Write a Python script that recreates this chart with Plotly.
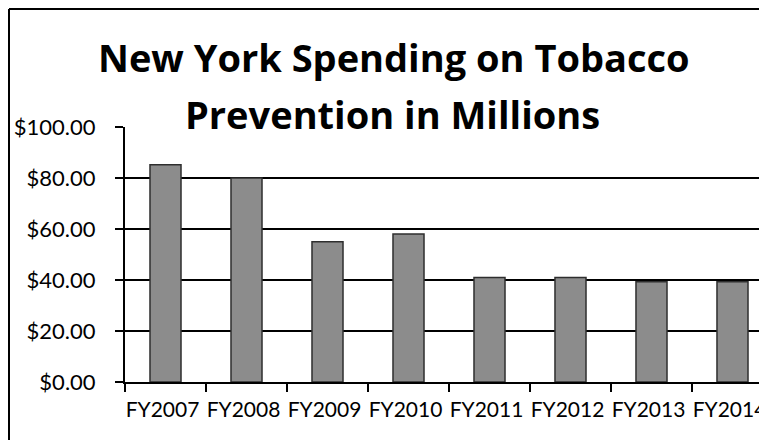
import plotly.graph_objects as go

categories = ["FY2007", "FY2008", "FY2009", "FY2010", "FY2011", "FY2012", "FY2013", "FY2014"]
spending = [85.2, 80.0, 55.0, 58.0, 41.0, 41.0, 39.3, 39.3]
y_ticks = [0, 20, 40, 60, 80, 100]
y_tick_labels = ["$0.00", "$20.00", "$40.00", "$60.00", "$80.00", "$100.00"]
title_lines = ["New York Spending on Tobacco", "Prevention in Millions"]

W, H = 767, 440
OFF = 8  # page body margin offset of the figure in the window
L, R, T, B = 117, 8, 119, 66
PW, PH = W - L - R, H - T - B


def px_x(s):
    return (s - OFF - L) / PW


def px_y(s):
    return (H - B - (s - OFF)) / PH


fig = go.Figure(
    go.Bar(
        x=categories,
        y=spending,
        marker=dict(color="#8c8c8c", line=dict(color="#2e2e2e", width=1.5)),
    )
)

font_family = "Lato, 'Open Sans', sans-serif"
title_family = "'Open Sans', Lato, sans-serif"

fig.update_layout(
    template="none",
    width=W,
    height=H,
    autosize=False,
    margin=dict(l=L, r=R, t=T, b=B, pad=0),
    paper_bgcolor="white",
    plot_bgcolor="white",
    bargap=0.617,
    showlegend=False,
    font=dict(family=font_family, color="black"),
)

fig.update_xaxes(
    type="category",
    range=[-0.5, 7.426],
    automargin=False,
    tickangle=0,
    showline=True,
    linecolor="black",
    linewidth=2,
    ticks="outside",
    tickson="boundaries",
    ticklen=8,
    tickwidth=2,
    tickcolor="black",
    showgrid=False,
    tickfont=dict(size=21, family=font_family, color="black"),
    ticklabelstandoff=8,
    ticklabelshift=-3,
)

fig.update_yaxes(
    range=[0, 100],
    automargin=False,
    tickvals=y_ticks,
    ticktext=y_tick_labels,
    showline=True,
    linecolor="black",
    linewidth=2,
    ticks="outside",
    ticklen=8,
    tickwidth=2,
    tickcolor="black",
    showgrid=True,
    gridcolor="black",
    gridwidth=2,
    zeroline=False,
    tickfont=dict(size=22, family=font_family, color="black"),
    ticklabelstandoff=15,
)

fig.add_annotation(
    text="<b>" + title_lines[0] + "</b>",
    xref="paper", yref="paper",
    x=px_x(394), y=px_y(57),
    xanchor="center", yanchor="middle",
    showarrow=False,
    font=dict(size=38, family=title_family, color="black"),
)
fig.add_annotation(
    text="<b>" + title_lines[1] + "</b>",
    xref="paper", yref="paper",
    x=px_x(392), y=px_y(114),
    xanchor="center", yanchor="middle",
    showarrow=False,
    font=dict(size=38, family=title_family, color="black"),
)

# chart frame (left and top border)
fig.add_shape(type="line", xref="paper", yref="paper",
              x0=px_x(9), x1=px_x(9), y0=px_y(9), y1=px_y(448),
              line=dict(color="black", width=2))
fig.add_shape(type="line", xref="paper", yref="paper",
              x0=px_x(9), x1=px_x(775), y0=px_y(9), y1=px_y(9),
              line=dict(color="black", width=2))

fig.write_html("out.html")
